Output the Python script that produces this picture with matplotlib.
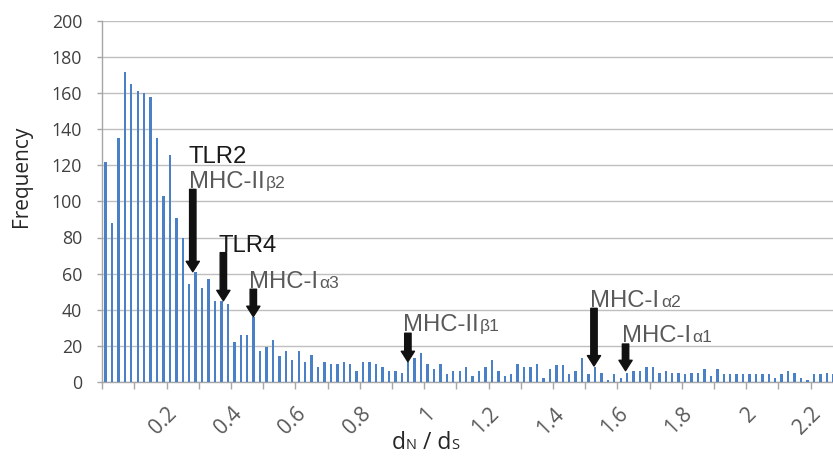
import matplotlib
matplotlib.use("Agg")
import matplotlib.pyplot as plt
import matplotlib.transforms as mtransforms
import numpy as np

# ---------------- data ----------------
bin_width = 0.02
frequency = [
    122, 88, 135, 172, 165, 161, 160, 158, 135, 103,
    126, 91, 80, 54, 61, 52, 57, 45, 45, 43,
    22, 26, 26, 36, 17, 19, 23, 14, 17, 12,
    17, 11, 15, 8, 11, 10, 10, 11, 10, 6,
    11, 11, 10, 8, 6, 6, 5, 11, 13, 16,
    10, 7, 10, 4, 6, 6, 8, 3, 6, 8,
    12, 6, 3, 4, 10, 8, 8, 10, 2, 7,
    9, 9, 4, 6, 13, 4, 8, 5, 1, 4,
    2, 5, 6, 6, 8, 8, 5, 6, 5, 5,
    4, 5, 5, 7, 3, 7, 4, 4, 4, 4,
    4, 4, 4, 4, 2, 4, 6, 5, 2, 1,
    4, 4, 5, 4,
]
x_values = np.arange(len(frequency)) * bin_width

xtick_values = [0.2, 0.4, 0.6, 0.8, 1.0, 1.2, 1.4, 1.6, 1.8, 2.0, 2.2]
xtick_labels = ["0.2", "0.4", "0.6", "0.8", "1", "1.2", "1.4", "1.6", "1.8", "2", "2.2"]
ytick_values = [0, 20, 40, 60, 80, 100, 120, 140, 160, 180, 200]

# annotation labels (main text + subscript)
label_main = ["TLR2", "MHC-II", "TLR4", "MHC-I", "MHC-II", "MHC-I", "MHC-I"]
label_sub = ["", "β2", "", "α3", "β1", "α2", "α1"]
label_x = [0.258, 0.258, 0.352, 0.446, 0.924, 1.506, 1.605]
label_y = [121.2, 107.6, 72.1, 52.0, 27.9, 41.7, 22.3]
label_color = ["#1a1a1a", "#595959", "#1a1a1a", "#595959", "#595959", "#595959", "#595959"]

# arrows (x position, shaft top, tip)
arrow_x = [0.271, 0.366, 0.459, 0.939, 1.517, 1.615]
arrow_top = [106.7, 71.6, 51.3, 26.9, 40.7, 20.9]
arrow_tip = [61.0, 44.9, 36.1, 11.1, 8.7, 6.1]

# ---------------- figure ----------------
W, H, DPI = 833, 459, 100
fig = plt.figure(figsize=(W / DPI, H / DPI), dpi=DPI)
ax = fig.add_axes([102.3 / W, 77.3 / H, 1 - 102.3 / W, (381.7 - 21.2) / H])

tick_font = "Open Sans"
bar_color = "#4a80c6"
ax.bar(x_values, frequency, width=0.0075, color=bar_color, zorder=3)

ax.set_xlim(-0.0099, 2.2593)
ax.set_ylim(0, 200)

# grid
ax.set_yticks(ytick_values)
ax.yaxis.grid(True, color="#bfbfbf", linewidth=1.0, zorder=0)
ax.set_axisbelow(True)

for s in ["top", "right"]:
    ax.spines[s].set_visible(False)
for s in ["left", "bottom"]:
    ax.spines[s].set_color("#a6a6a6")
    ax.spines[s].set_linewidth(1.0)

ax.tick_params(axis="y", direction="out", length=3.5, width=1.0, color="#a6a6a6",
               pad=11, labelsize=12.8, labelcolor="#404040")
for lab in ax.get_yticklabels():
    lab.set_family(tick_font)

# x ticks: minor ticks at category boundaries, labels at values
ax.set_xticks(np.arange(-0.01, 2.25, 0.1), minor=True)
ax.tick_params(axis="x", which="minor", direction="out", length=5, width=1.0, color="#a6a6a6")
ax.set_xticks(xtick_values)
ax.tick_params(axis="x", which="major", length=0, pad=21, labelcolor="#595959")
ax.set_xticklabels(xtick_labels, fontsize=15, family=tick_font, rotation=45,
                   ha="right", va="center", rotation_mode="anchor")
shift = mtransforms.ScaledTranslation(3 / 72, 0, fig.dpi_scale_trans)
for lab in ax.get_xticklabels():
    lab.set_transform(lab.get_transform() + shift)

# y label
fig.text(22 / W, 1 - 176 / H, "Frequency", rotation=90, ha="center", va="center",
         fontsize=15, color="#262626", family=tick_font)

fig.canvas.draw()
renderer = fig.canvas.get_renderer()

def px_to_pts(px):
    return px * 72.0 / DPI

# x label: d_N / d_S with small subscripts
pieces = [("d", 16.5), ("N", 10.5), (" / d", 16.5), ("S", 10.5)]
cur_px = 392.0
base_y = H - 449.0
for txt, sz in pieces:
    t = fig.text(cur_px / W, base_y / H, txt, fontsize=sz, color="#262626",
                 family=tick_font, ha="left", va="baseline")
    bb = t.get_window_extent(renderer)
    cur_px += bb.width

# arrows
for xa, yt, yb in zip(arrow_x, arrow_top, arrow_tip):
    ax.annotate("", xy=(xa, yb), xytext=(xa, yt), xycoords="data",
                arrowprops=dict(width=4.6, headwidth=9.5, headlength=7.5,
                                shrink=0.0, facecolor="#111111", edgecolor="#111111"),
                zorder=5)

# annotation labels
main_size = 17.2
sub_size = 12.5
for xm, ym, m, sub, c in zip(label_x, label_y, label_main, label_sub, label_color):
    t = ax.text(xm, ym, m, fontsize=main_size, color=c, family="Liberation Sans",
                ha="left", va="baseline", zorder=6)
    if sub:
        bb = t.get_window_extent(renderer)
        ax.annotate(sub, xy=(xm, ym), xycoords="data",
                    xytext=(px_to_pts(bb.width) + 1.0, 0), textcoords="offset points",
                    fontsize=sub_size, color=c, family="Liberation Sans",
                    ha="left", va="baseline", zorder=6)

fig.savefig("out.png", dpi=DPI)
